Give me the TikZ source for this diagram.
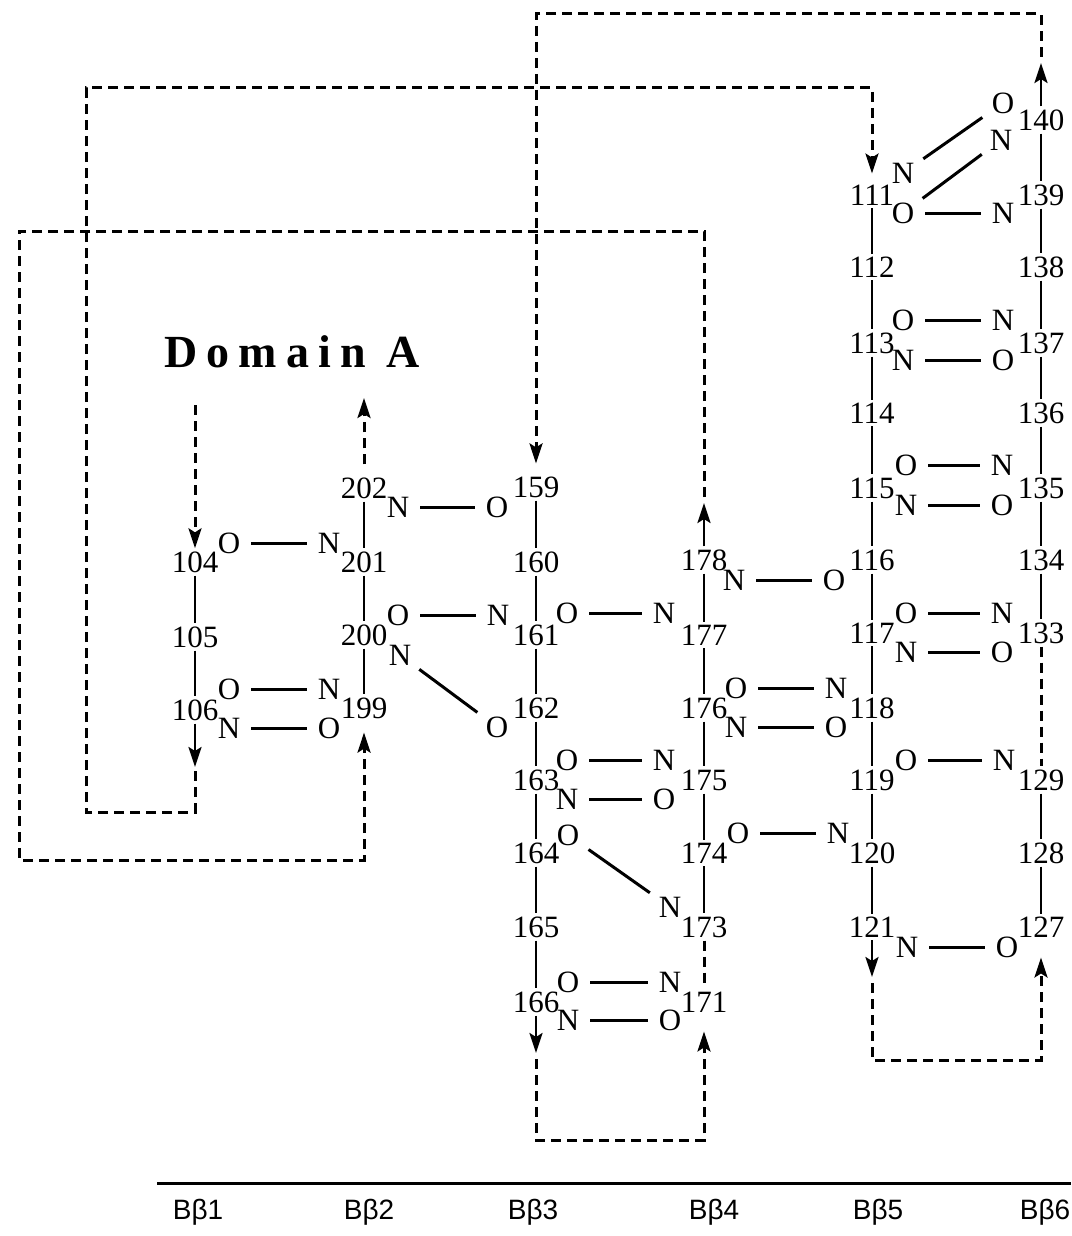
\documentclass[tikz,border=0pt]{standalone}
\usepackage{fontspec}
\setmainfont{Liberation Serif}
\newfontfamily\sansfont{Liberation Sans}
\newfontfamily\spacedfont[LetterSpace=20]{Liberation Serif}
\usepackage{tikz}
\usetikzlibrary{arrows.meta, calc}
\newcommand{\resfont}{\fontsize{31}{32}\selectfont}

\begin{document}
\begin{tikzpicture}[x=1pt, y=-1pt,
  resnum/.style={font=\resfont, inner sep=3pt},
  atom/.style={font=\resfont, inner xsep=11pt, inner ysep=1pt},
  strand/.style={line width=2.6pt},
  hbond/.style={line width=3pt},
  diag/.style={line width=3pt, shorten <=5pt, shorten >=5pt},
  loopline/.style={line width=3pt, dash pattern=on 10pt off 6pt},
  headed/.style={-{Stealth[length=20pt, width=13pt, inset=4pt]}},
  strandlabel/.style={font=\sansfont\fontsize{28}{30}\selectfont},
]
  \useasboundingbox (0,0) rectangle (1071,1236);

  % Residue numbers, strand by strand
  \node[resnum] (r104) at (195,562) {104};
  \node[resnum] (r105) at (195,637) {105};
  \node[resnum] (r106) at (195,710) {106};

  \node[resnum] (r202) at (364,488) {202};
  \node[resnum] (r201) at (364,562) {201};
  \node[resnum] (r200) at (364,635) {200};
  \node[resnum] (r199) at (364,708) {199};

  \node[resnum] (r159) at (536,487) {159};
  \node[resnum] (r160) at (536,562) {160};
  \node[resnum] (r161) at (536,635) {161};
  \node[resnum] (r162) at (536,708) {162};
  \node[resnum] (r163) at (536,780) {163};
  \node[resnum] (r164) at (536,853) {164};
  \node[resnum] (r165) at (536,927) {165};
  \node[resnum] (r166) at (536,1002) {166};

  \node[resnum] (r178) at (704,560) {178};
  \node[resnum] (r177) at (704,635) {177};
  \node[resnum] (r176) at (704,708) {176};
  \node[resnum] (r175) at (704,780) {175};
  \node[resnum] (r174) at (704,853) {174};
  \node[resnum] (r173) at (704,927) {173};
  \node[resnum] (r171) at (704,1002) {171};

  \node[resnum] (r111) at (872,195) {111};
  \node[resnum] (r112) at (872,267) {112};
  \node[resnum] (r113) at (872,343) {113};
  \node[resnum] (r114) at (872,413) {114};
  \node[resnum] (r115) at (872,488) {115};
  \node[resnum] (r116) at (872,560) {116};
  \node[resnum] (r117) at (872,633) {117};
  \node[resnum] (r118) at (872,708) {118};
  \node[resnum] (r119) at (872,780) {119};
  \node[resnum] (r120) at (872,853) {120};
  \node[resnum] (r121) at (872,927) {121};

  \node[resnum] (r140) at (1041,120) {140};
  \node[resnum] (r139) at (1041,195) {139};
  \node[resnum] (r138) at (1041,267) {138};
  \node[resnum] (r137) at (1041,343) {137};
  \node[resnum] (r136) at (1041,413) {136};
  \node[resnum] (r135) at (1041,488) {135};
  \node[resnum] (r134) at (1041,560) {134};
  \node[resnum] (r133) at (1041,633) {133};
  \node[resnum] (r129) at (1041,780) {129};
  \node[resnum] (r128) at (1041,853) {128};
  \node[resnum] (r127) at (1041,927) {127};

  % Backbone
  \draw[strand] (r104) -- (r105) -- (r106);
  \draw[strand] (r202) -- (r201) -- (r200) -- (r199);
  \draw[strand] (r159) -- (r160) -- (r161) -- (r162) -- (r163) -- (r164) -- (r165) -- (r166);
  \draw[strand] (r178) -- (r177) -- (r176) -- (r175) -- (r174) -- (r173);
  \draw[strand] (r111) -- (r112) -- (r113) -- (r114) -- (r115) -- (r116) -- (r117) -- (r118) -- (r119) -- (r120) -- (r121);
  \draw[strand] (r140) -- (r139) -- (r138) -- (r137) -- (r136) -- (r135) -- (r134) -- (r133);
  \draw[strand] (r129) -- (r128) -- (r127);
  \draw[loopline] (r173) -- (r171);
  \draw[loopline] (r133) -- (r129);

  % Backbone O and N atoms
  \node[atom] (o104) at (229,543) {O};
  \node[atom] (n201) at (329,543) {N};
  \node[atom] (o106) at (229,689) {O};
  \node[atom] (n199) at (329,689) {N};
  \node[atom] (n106) at (229,728) {N};
  \node[atom] (o199) at (329,728) {O};

  \node[atom] (n202) at (398,507) {N};
  \node[atom] (o159) at (497,507) {O};
  \node[atom] (o200) at (398,615) {O};
  \node[atom] (n161) at (498,615) {N};
  \node[atom] (n200) at (400,655) {N};
  \node[atom] (o162) at (497,727) {O};

  \node[atom] (o161) at (567,613) {O};
  \node[atom] (n177) at (664,613) {N};
  \node[atom] (o163) at (567,760) {O};
  \node[atom] (n175) at (664,760) {N};
  \node[atom] (n163) at (567,799) {N};
  \node[atom] (o175) at (664,799) {O};
  \node[atom] (o164) at (568,835) {O};
  \node[atom] (n173) at (670,907) {N};
  \node[atom] (o166) at (568,982) {O};
  \node[atom] (n171) at (670,982) {N};
  \node[atom] (n166) at (568,1020) {N};
  \node[atom] (o171) at (670,1020) {O};

  \node[atom] (n178) at (734,580) {N};
  \node[atom] (o116) at (834,580) {O};
  \node[atom] (o176) at (736,688) {O};
  \node[atom] (n118) at (836,688) {N};
  \node[atom] (n176) at (736,727) {N};
  \node[atom] (o118) at (836,727) {O};
  \node[atom] (o174) at (738,833) {O};
  \node[atom] (n120) at (838,833) {N};

  \node[atom] (n111) at (903,173) {N};
  \node[atom] (o111) at (903,213) {O};
  \node[atom] (o140) at (1003,103) {O};
  \node[atom] (n140) at (1001,140) {N};
  \node[atom] (n139) at (1003,213) {N};
  \node[atom] (o113) at (903,320) {O};
  \node[atom] (n137) at (1003,320) {N};
  \node[atom] (n113) at (903,360) {N};
  \node[atom] (o137) at (1003,360) {O};
  \node[atom] (o115) at (906,465) {O};
  \node[atom] (n135) at (1002,465) {N};
  \node[atom] (n115) at (906,505) {N};
  \node[atom] (o135) at (1002,505) {O};
  \node[atom] (o117) at (906,613) {O};
  \node[atom] (n133) at (1002,613) {N};
  \node[atom] (n117) at (906,652) {N};
  \node[atom] (o133) at (1002,652) {O};
  \node[atom] (o119) at (906,760) {O};
  \node[atom] (n129) at (1004,760) {N};
  \node[atom] (n121) at (907,947) {N};
  \node[atom] (o127) at (1007,947) {O};

  % Hydrogen bonds
  \draw[hbond] (o104) -- (n201);
  \draw[hbond] (o106) -- (n199);
  \draw[hbond] (n106) -- (o199);
  \draw[hbond] (n202) -- (o159);
  \draw[hbond] (o200) -- (n161);
  \draw[diag] (n200) -- (o162);
  \draw[hbond] (o161) -- (n177);
  \draw[hbond] (o163) -- (n175);
  \draw[hbond] (n163) -- (o175);
  \draw[diag] (o164) -- (n173);
  \draw[hbond] (o166) -- (n171);
  \draw[hbond] (n166) -- (o171);
  \draw[hbond] (n178) -- (o116);
  \draw[hbond] (o176) -- (n118);
  \draw[hbond] (n176) -- (o118);
  \draw[hbond] (o174) -- (n120);
  \draw[diag] (n111) -- (o140);
  \draw[diag] (o111) -- (n140);
  \draw[hbond] (o111) -- (n139);
  \draw[hbond] (o113) -- (n137);
  \draw[hbond] (n113) -- (o137);
  \draw[hbond] (o115) -- (n135);
  \draw[hbond] (n115) -- (o135);
  \draw[hbond] (o117) -- (n133);
  \draw[hbond] (n117) -- (o133);
  \draw[hbond] (o119) -- (n129);
  \draw[hbond] (n121) -- (o127);

  % Strand ends and connecting loops
  \coordinate (in104) at (195,405);
  \coordinate (out202) at (364,398);
  \draw[loopline, headed] (in104) -- (r104);
  \draw[loopline, headed, shorten <=10pt] (r202) -- (out202);

  \coordinate (a106) at (195,767);
  \coordinate (k106) at (86,812);
  \coordinate (k111) at (872,88);
  \draw[strand, headed] (r106) -- (a106);
  \draw[loopline, headed, shorten <=4pt, shorten >=8pt] (a106) |- (k106) |- (k111) -- (r111);

  \coordinate (a140) at (1041,63);
  \coordinate (k140) at (536,14);
  \draw[strand, headed] (r140) -- (a140);
  \draw[loopline, headed, shorten <=6pt, shorten >=10pt] (a140) |- (k140) -- (r159);

  \coordinate (a178) at (704,503);
  \coordinate (k178) at (19,231);
  \coordinate (k199) at (364,860);
  \draw[strand, headed] (r178) -- (a178);
  \draw[loopline, headed, shorten <=6pt, shorten >=11pt] (a178) |- (k178) |- (k199) -- (r199);

  \coordinate (a166) at (536,1053);
  \coordinate (k166) at (704,1140);
  \draw[strand, headed] (r166) -- (a166);
  \draw[loopline, headed, shorten <=6pt, shorten >=16pt] (a166) |- (k166) -- (r171);

  \coordinate (a121) at (872,977);
  \coordinate (k121) at (1041,1060);
  \draw[strand, headed] (r121) -- (a121);
  \draw[loopline, headed, shorten <=6pt, shorten >=17pt] (a121) |- (k121) -- (r127);

  \node[font=\spacedfont\bfseries\fontsize{46}{48}\selectfont] (domA) at (292,352) {Domain A};

  % Strand axis
  \coordinate (axl) at (157,1183);
  \coordinate (axr) at (1071,1183);
  \draw[line width=3pt] (axl) -- (axr);
  \node[strandlabel] (lab1) at (198,1212) {Bβ1};
  \node[strandlabel] (lab2) at (369,1212) {Bβ2};
  \node[strandlabel] (lab3) at (533,1212) {Bβ3};
  \node[strandlabel] (lab4) at (714,1212) {Bβ4};
  \node[strandlabel] (lab5) at (878,1212) {Bβ5};
  \node[strandlabel] (lab6) at (1045,1212) {Bβ6};
\end{tikzpicture}
\end{document}
